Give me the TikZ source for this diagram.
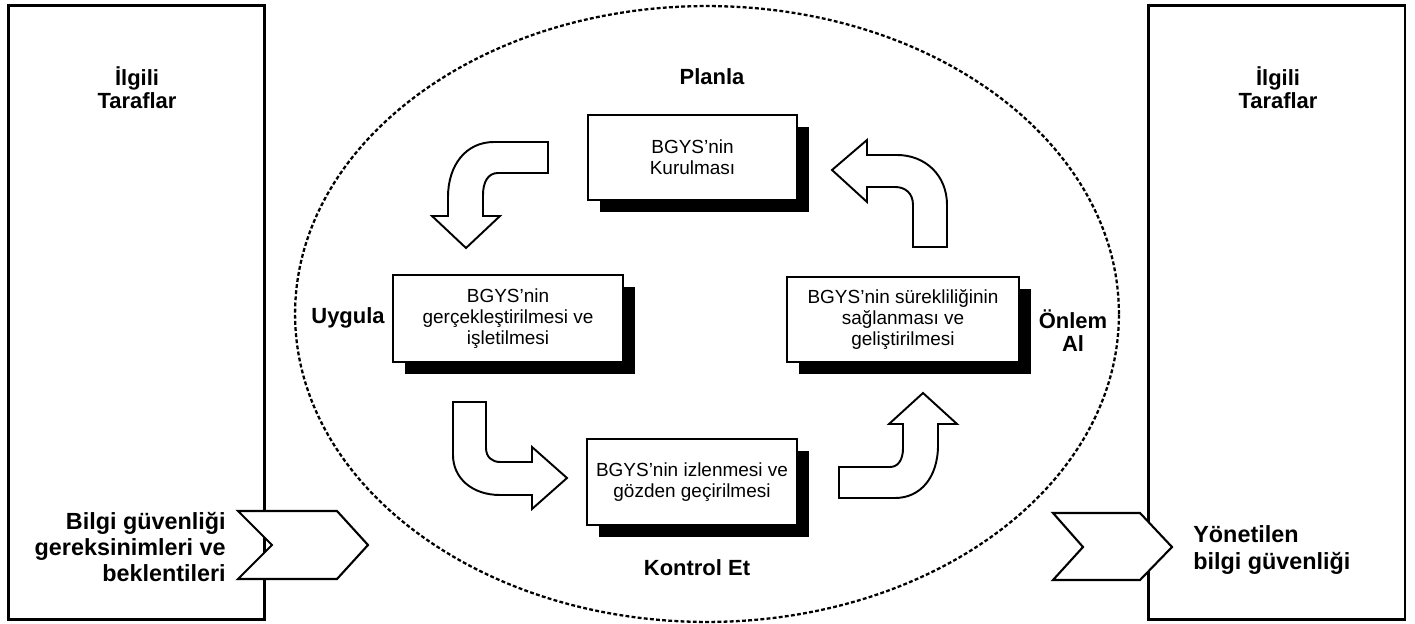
\documentclass[tikz,border=0pt]{standalone}
\usepackage{fontspec}
\setmainfont{Liberation Sans}
\usetikzlibrary{shapes.geometric,shadows}
\begin{document}
\begin{tikzpicture}[x=0.02cm,y=-0.02cm,
  outer/.style={draw,line width=1.7pt,minimum width=5.14cm,minimum height=12.3cm,inner sep=0pt},
  procbox/.style={draw,line width=1.1pt,fill=white,align=center,inner sep=0pt,
    font=\fontsize{10.8}{12}\selectfont,
    drop shadow={shadow xshift=0.24cm,shadow yshift=-0.24cm,opacity=1,fill=black}},
  lbl/.style={font=\fontsize{12.5}{13.2}\selectfont\bfseries,align=center,inner sep=0pt},
  biglbl/.style={font=\fontsize{13.3}{14.9}\selectfont\bfseries,inner sep=0pt},
  blockarrow/.style={draw,line width=1.1pt,fill=white,line join=miter},
  chevron/.style={draw,line width=1.2pt,fill=white,line join=miter},
  cyc/.style={draw,ellipse,line width=1.3pt,dash pattern=on 2.2pt off 1.3pt,inner sep=0pt}]
\useasboundingbox (0,0) rectangle (1415,624);
% outer boxes
\node[outer] (lbox) at (136.5,312.5) {};
\node[outer] (rbox) at (1276.5,312.5) {};
\node[lbl] (lparty) at (137,88) {İlgili\\Taraflar};
\node[lbl] (rparty) at (1278,88) {İlgili\\Taraflar};
% cycle ellipse
\node[cyc,minimum width=16.48cm,minimum height=12.32cm] (cyc) at (707,314) {};
% process boxes
\node[procbox,minimum width=4.18cm,minimum height=1.7cm] (plan) at (692.5,157.5) {BGYS'nin\\Kurulması};
\node[procbox,minimum width=4.6cm,minimum height=1.74cm] (do) at (508,318.5) {BGYS'nin\\gerçekleştirilmesi ve\\işletilmesi};
\node[procbox,minimum width=4.64cm,minimum height=1.7cm] (act) at (903,319.5) {BGYS'nin sürekliliğinin\\sağlanması ve\\geliştirilmesi};
\node[procbox,minimum width=4.2cm,minimum height=1.72cm] (check) at (692,482) {BGYS'nin izlenmesi ve\\gözden geçirilmesi};
% phase labels
\node[lbl] (planla) at (712,77) {Planla};
\node[lbl] (uygula) at (348,318) {Uygula};
\node[lbl] (onlem) at (1073,331) {Önlem\\Al};
\node[lbl] (kontrol) at (697,568) {Kontrol Et};
% block arrows
\draw[blockarrow] (548,142) -- (494,142) .. controls (466,142) and (448,165) .. (448,197) -- (448,216) -- (432,216) -- (466,248) -- (500,216) -- (483,216) -- (483,195) .. controls (483,182) and (488,173) .. (498,173) -- (548,173) -- cycle;
\draw[blockarrow] (832,170) -- (867,140) -- (867,155) -- (897,155) .. controls (925,155) and (947,175) .. (947,205) -- (947,247) -- (913,247) -- (913,205) .. controls (913,193) and (905,187) .. (895,187) -- (867,187) -- (867,202) -- cycle;
\draw[blockarrow] (453,402) -- (486,402) -- (486,448) .. controls (486,457) and (492,462) .. (500,462) -- (532,462) -- (532,447) -- (567,478) -- (532,509) -- (532,495) -- (500,495) .. controls (472,495) and (453,478) .. (453,455) -- cycle;
\draw[blockarrow] (839,467) -- (890,467) .. controls (898,467) and (903,460) .. (903,448) -- (903,424) -- (889,424) -- (923,393) -- (957,424) -- (938,424) -- (938,445) .. controls (938,478) and (920,498) .. (895,498) -- (839,498) -- cycle;
% chevrons
\draw[chevron] (238,511) -- (337,511) -- (368,545) -- (337,579) -- (238,579) -- (272,545) -- cycle;
\draw[chevron] (1053,513) -- (1140,513) -- (1172,547) -- (1140,580) -- (1053,580) -- (1083,547) -- cycle;
\node[biglbl,align=right,anchor=east] (req) at (226,547) {Bilgi güvenliği\\gereksinimleri ve\\beklentileri};
\node[biglbl,align=left,anchor=west] (managed) at (1193,550) {Yönetilen\\bilgi güvenliği};
\end{tikzpicture}
\end{document}
